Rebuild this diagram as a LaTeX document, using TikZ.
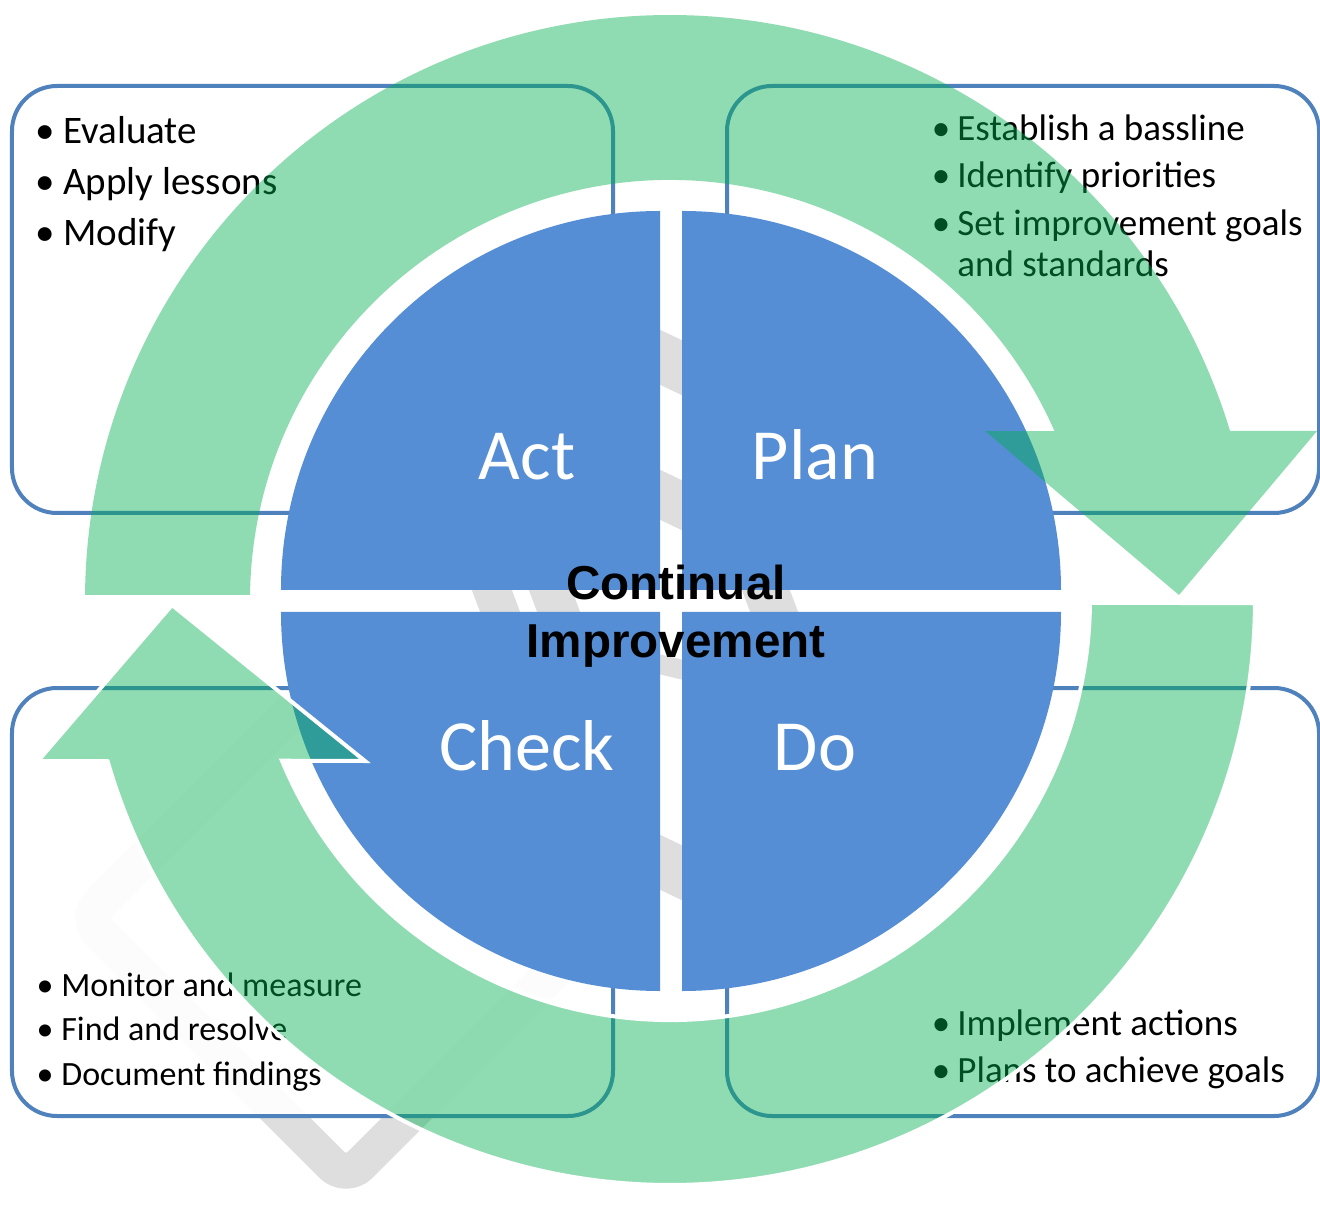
\documentclass[tikz,border=0pt]{standalone}
\usepackage{fontspec}
\setmainfont{Carlito}
\newfontfamily\headfont{Liberation Sans}
\definecolor{qblue}{RGB}{85,142,213}
\definecolor{bline}{RGB}{79,129,189}
\definecolor{agreen}{RGB}{0,176,80}
\definecolor{wm}{RGB}{222,222,222}
\tikzset{
  infobox/.style={draw=bline, line width=2pt, fill=white, fill opacity=0.92, rounded corners=22.5pt},
  quad/.style={fill=qblue},
  qlabel/.style={text=white, font=\fontsize{36pt}{40pt}\selectfont, anchor=base, inner sep=0pt},
  arrowshape/.style={fill=agreen, fill opacity=0.44},
  bul/.style={anchor=base, inner sep=0pt},
  itm/.style={anchor=base west, inner sep=0pt},
  tlf/.style={font=\fontsize{19.5pt}{23pt}\selectfont},
  trf/.style={font=\fontsize{18.5pt}{22pt}\selectfont},
  blf/.style={font=\fontsize{17pt}{20pt}\selectfont},
  brf/.style={font=\fontsize{18.5pt}{22pt}\selectfont},
  ctext/.style={font=\headfont\bfseries\fontsize{23.8pt}{28pt}\selectfont, anchor=base, inner sep=0pt},
  wmark/.style={fill=wm}
}
\begin{document}
\begin{tikzpicture}[x=0.5pt,y=0.5pt]
\useasboundingbox (-670,-609) rectangle (650,600);
\fill[white] (-670,-609) rectangle (650,600);
% watermark
\draw[wm, line width=18pt, rounded corners=10pt, line join=round]
  (-585,-318) -- (-324,-579) -- (-63,-318) -- (-324,-57) -- cycle;
% boxes
\draw[infobox] (-658,87) rectangle (-57,514);
\draw[infobox] (57,87) rectangle (649,514);
\draw[infobox] (-658,-516) rectangle (-57,-88);
\draw[infobox] (57,-516) rectangle (649,-88);
% box texts
\node[bul,tlf] (btl1) at (-625,456) {•};
\node[itm,tlf] (ttl1) at (-607,456) {Evaluate};
\node[bul,tlf] (btl2) at (-625,405) {•};
\node[itm,tlf] (ttl2) at (-607,405) {Apply lessons};
\node[bul,tlf] (btl3) at (-625,354) {•};
\node[itm,tlf] (ttl3) at (-607,354) {Modify};

\node[bul,trf] (btr1) at (271,459) {•};
\node[itm,trf] (ttr1) at (287,459) {Establish a bassline};
\node[bul,trf] (btr2) at (271,412) {•};
\node[itm,trf] (ttr2) at (287,412) {Identify priorities};
\node[bul,trf] (btr3) at (271,364) {•};
\node[itm,trf] (ttr3) at (287,364) {Set improvement goals};
\node[itm,trf] (ttr4) at (287,323) {and standards};

\node[bul,blf] (bbl1) at (-625,-396) {•};
\node[itm,blf] (tbl1) at (-609,-396) {Monitor and measure};
\node[bul,blf] (bbl2) at (-625,-440) {•};
\node[itm,blf] (tbl2) at (-609,-440) {Find and resolve};
\node[bul,blf] (bbl3) at (-625,-485) {•};
\node[itm,blf] (tbl3) at (-609,-485) {Document findings};

\node[bul,brf] (bbr1) at (271,-435) {•};
\node[itm,brf] (tbr1) at (287,-435) {Implement actions};
\node[bul,brf] (bbr2) at (271,-482) {•};
\node[itm,brf] (tbr2) at (287,-482) {Plans to achieve goals};
% halo
\fill[white] (1,-1) circle[radius=386];
% watermark pieces seen in the gaps
\begin{scope}
  \clip (-10,-420) rectangle (12,420) (-420,10) rectangle (420,-12);
  \fill[wmark] (-20,275) -- (22,255) -- (22,200) -- (-20,220) -- cycle;
  \fill[wmark] (-20,135) -- (22,115) -- (22,65) -- (-20,85) -- cycle;
  \fill[wmark] (-20,-230) -- (22,-250) -- (22,-305) -- (-20,-285) -- cycle;
  \fill[wmark] (-20,-52) -- (22,-62) -- (22,-82) -- (-20,-72) -- cycle;
  \fill[wmark] (-200,15) -- (-160,15) -- (-148,-17) -- (-188,-17) -- cycle;
  \fill[wmark] (-143,15) -- (-100,15) -- (-88,-17) -- (-131,-17) -- cycle;
  \fill[wmark] (70,15) -- (118,15) -- (130,-17) -- (82,-17) -- cycle;
\end{scope}
% quadrants
\fill[quad] (-10,10) -- (-389,10) arc[start angle=180,end angle=90,radius=379] -- cycle;
\fill[quad] (12,10) -- (12,389) arc[start angle=90,end angle=0,radius=379] -- cycle;
\fill[quad] (-10,-12) -- (-10,-391) arc[start angle=270,end angle=180,radius=379] -- cycle;
\fill[quad] (12,-12) -- (391,-12) arc[start angle=0,end angle=-90,radius=379] -- cycle;
\node[qlabel] (act) at (-143,120) {Act};
\node[qlabel] (plan) at (145,120) {Plan};
\node[qlabel] (check) at (-143,-170) {Check};
\node[qlabel] (do) at (145,-170) {Do};
% circular arrows
\path[arrowshape] (179.5:585) arc[start angle=179.5,end angle=16.8,radius=585]
  -- (647,169) -- (509,5) -- (315,169) -- (23.7:420)
  arc[start angle=23.7,end angle=179.3,radius=420] -- cycle;
\path[arrowshape, draw=white, line width=2pt] (-0.3:585) arc[start angle=-0.3,end angle=-164,radius=585]
  -- (-632,-161) -- (-498,-5) -- (-305,-161) -- (-157.5:420)
  arc[start angle=-157.5,end angle=-0.4,radius=420] -- cycle;
% centre text
\node[ctext] (c1) at (6,0) {Continual};
\node[ctext] (c2) at (6,-57) {Improvement};
\end{tikzpicture}
\end{document}
